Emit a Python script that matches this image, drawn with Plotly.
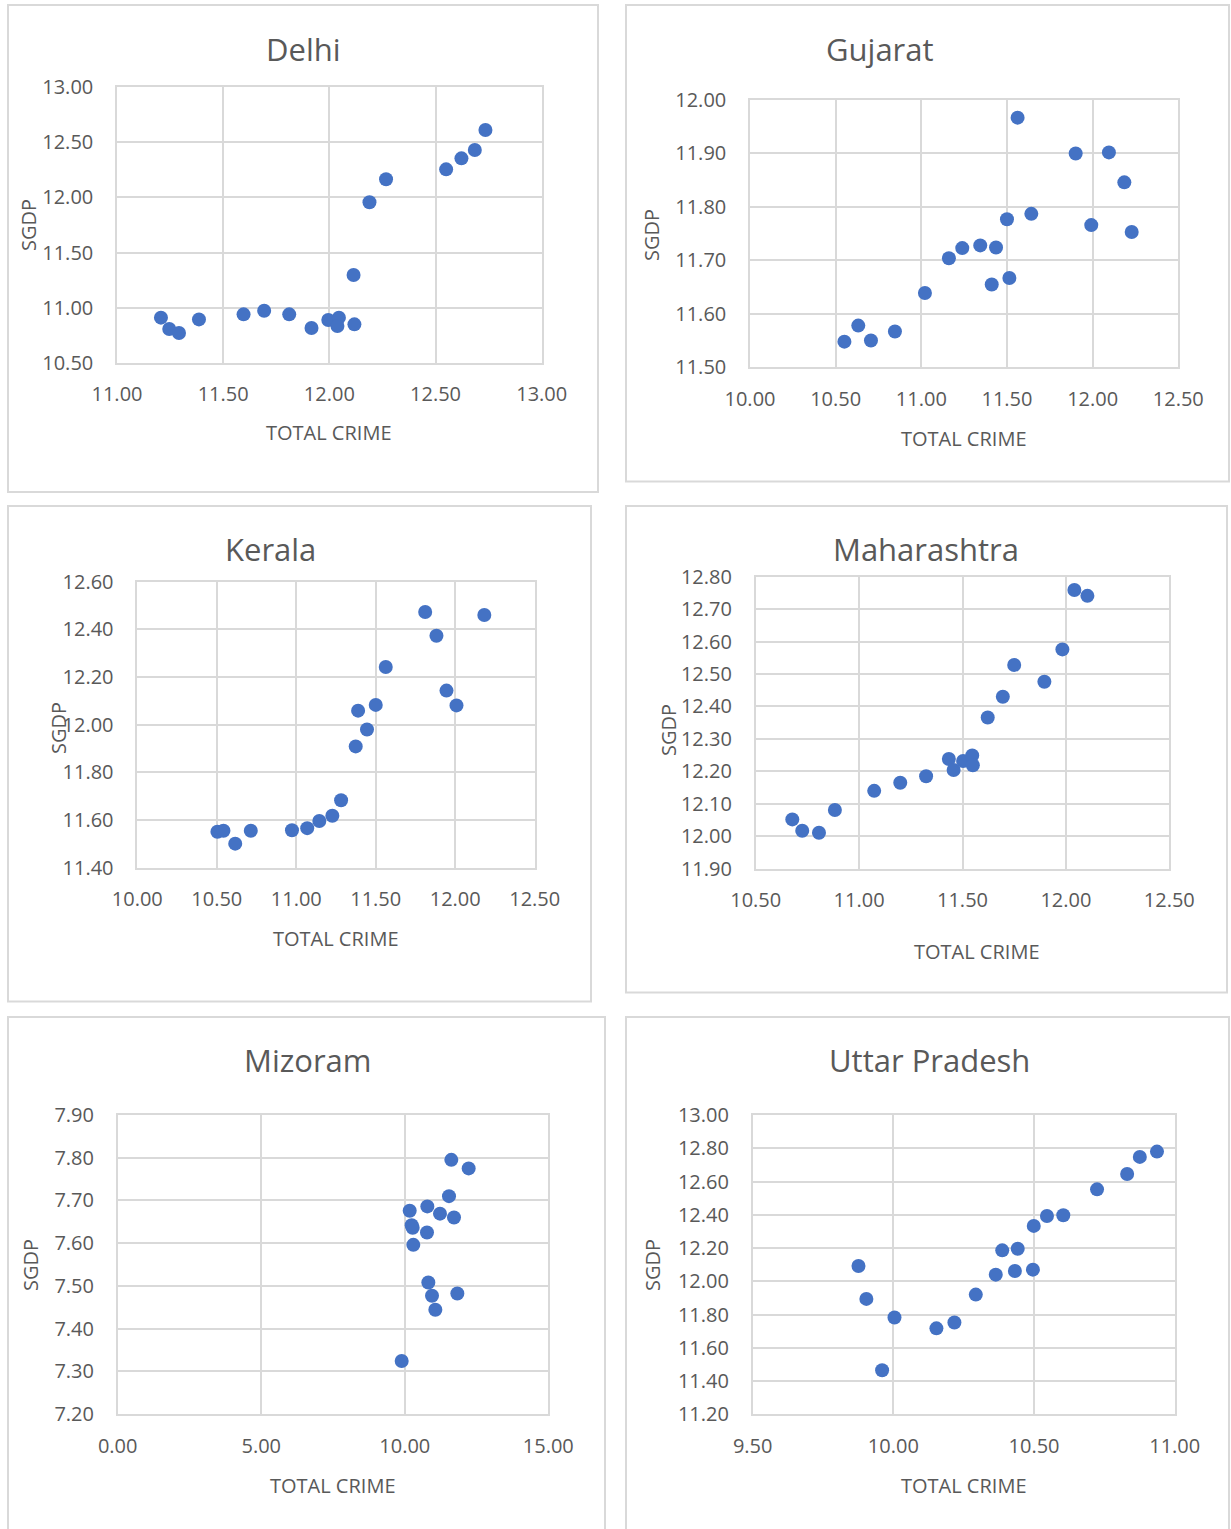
import plotly.graph_objects as go

W, H = 1231, 1529

# ---------------- data ----------------
delhi_crime = [11.207, 11.246, 11.292, 11.386, 11.596, 11.693, 11.811, 11.916, 11.995, 12.045,
               12.038, 12.118, 12.114, 12.189, 12.267, 12.550, 12.622, 12.685, 12.735]
delhi_sgdp = [10.909, 10.806, 10.769, 10.893, 10.939, 10.972, 10.939, 10.815, 10.887, 10.909,
              10.833, 10.848, 11.296, 11.956, 12.165, 12.255, 12.355, 12.431, 12.613]

gujarat_crime = [11.562, 11.901, 12.095, 12.185, 11.642, 11.500, 11.992, 12.228, 11.239, 11.344,
                 11.436, 11.161, 11.411, 11.514, 11.021, 10.632, 10.551, 10.706, 10.846]
gujarat_sgdp = [11.967, 11.900, 11.902, 11.846, 11.787, 11.777, 11.766, 11.753, 11.723, 11.728,
                11.724, 11.704, 11.655, 11.667, 11.639, 11.578, 11.548, 11.550, 11.567]

kerala_crime = [11.811, 12.183, 11.882, 11.563, 11.945, 12.008, 11.500, 11.389, 11.445, 11.374,
                11.282, 11.227, 11.145, 11.069, 10.973, 10.714, 10.616, 10.504, 10.542]
kerala_sgdp = [12.473, 12.460, 12.373, 12.242, 12.143, 12.081, 12.083, 12.059, 11.980, 11.909,
               11.683, 11.618, 11.596, 11.566, 11.557, 11.555, 11.501, 11.551, 11.555]

maha_crime = [12.041, 12.104, 11.983, 11.750, 11.896, 11.695, 11.622, 11.434, 11.503, 11.547,
              11.550, 11.457, 11.324, 11.199, 11.073, 10.883, 10.677, 10.725, 10.806]
maha_sgdp = [12.759, 12.741, 12.576, 12.528, 12.476, 12.430, 12.366, 12.238, 12.232, 12.249,
             12.219, 12.204, 12.185, 12.165, 12.140, 12.081, 12.052, 12.017, 12.011]

mizoram_crime = [11.622, 12.226, 11.541, 10.786, 10.171, 11.227, 11.715, 10.240, 10.275, 10.774,
                 10.298, 10.821, 10.949, 11.831, 11.065, 9.892]
mizoram_sgdp = [7.795, 7.775, 7.710, 7.686, 7.676, 7.669, 7.660, 7.642, 7.636, 7.625,
                7.596, 7.508, 7.477, 7.482, 7.444, 7.324]

up_crime = [10.937, 10.876, 10.831, 10.724, 10.604, 10.546, 10.499, 10.387, 10.442, 9.876,
            10.364, 10.432, 10.496, 10.293, 9.904, 10.004, 10.217, 10.153, 9.960]
up_sgdp = [12.780, 12.748, 12.645, 12.553, 12.397, 12.393, 12.333, 12.186, 12.196, 12.092,
           12.040, 12.062, 12.070, 11.920, 11.894, 11.782, 11.752, 11.717, 11.465]

titles = ["Delhi", "Gujarat", "Kerala", "Maharashtra", "Mizoram", "Uttar Pradesh"]
x_title = "TOTAL CRIME"
y_title = "SGDP"

# ---------------- layout spec (pixels) ----------------
panels = [
    dict(x=delhi_crime, y=delhi_sgdp, xr=[11, 13], xd=0.5, yr=[10.5, 13], yd=0.5,
         plot=(117, 541.7, 87.3, 362.7), box=(8, 598, 5, 492),
         title=(303, 49), xt=(329, 433), yt=(28, 225)),
    dict(x=gujarat_crime, y=gujarat_sgdp, xr=[10, 12.5], xd=0.5, yr=[11.5, 12.0], yd=0.1,
         plot=(750, 1178.3, 100, 367.3), box=(626, 1229, 5, 481.5),
         title=(880, 49), xt=(964, 438), yt=(651, 235)),
    dict(x=kerala_crime, y=kerala_sgdp, xr=[10, 12.5], xd=0.5, yr=[11.4, 12.6], yd=0.2,
         plot=(137.3, 534.7, 581.7, 867.7), box=(8, 591, 506, 1001.5),
         title=(270, 549), xt=(336, 938), yt=(58, 728)),
    dict(x=maha_crime, y=maha_sgdp, xr=[10.5, 12.5], xd=0.5, yr=[11.9, 12.8], yd=0.1,
         plot=(755.7, 1169.3, 576.7, 868.7), box=(626, 1227, 506, 992.5),
         title=(926, 549), xt=(977, 952), yt=(668, 730)),
    dict(x=mizoram_crime, y=mizoram_sgdp, xr=[0, 15], xd=5, yr=[7.2, 7.9], yd=0.1,
         plot=(117.7, 548.3, 1115, 1414), box=(8, 605, 1017, 1535),
         title=(307, 1060), xt=(333, 1485), yt=(30, 1265)),
    dict(x=up_crime, y=up_sgdp, xr=[9.5, 11.0], xd=0.5, yr=[11.2, 13.0], yd=0.2,
         plot=(752.7, 1174.7, 1115, 1414.3), box=(626, 1229, 1017, 1535),
         title=(929, 1060), xt=(964, 1485), yt=(652, 1265)),
]

FONT = "Open Sans"
TXT = "#595959"
GRID = "#d9d9d9"


def px(xp):
    return xp / W


def py(yp):
    return 1 - yp / H


fig = go.Figure()
shapes = []
annotations = []
layout = {}

for i, p in enumerate(panels):
    n = "" if i == 0 else str(i + 1)
    fig.add_trace(go.Scatter(
        x=p["x"], y=p["y"], mode="markers",
        marker=dict(color="#4472C4", size=14, line=dict(width=0)),
        xaxis="x" + n, yaxis="y" + n, showlegend=False,
    ))
    x0, x1, y0, y1 = p["plot"]
    common = dict(
        showgrid=True, gridcolor=GRID, gridwidth=1.5,
        showline=True, linecolor=GRID, linewidth=1.5, mirror=True,
        zeroline=False, ticks="", tickformat=".2f", automargin=False,
        tickfont=dict(family=FONT, size=20, color=TXT),
        fixedrange=True,
    )
    layout["xaxis" + n] = dict(
        common, domain=[px(x0), px(x1)], anchor="y" + n,
        range=p["xr"], tick0=p["xr"][0], dtick=p["xd"], ticklabelstandoff=13,
    )
    layout["yaxis" + n] = dict(
        common, domain=[py(y1), py(y0)], anchor="x" + n,
        range=p["yr"], tick0=p["yr"][0], dtick=p["yd"], ticklabelstandoff=18,
    )
    bx0, bx1, by0, by1 = p["box"]
    shapes.append(dict(type="rect", xref="paper", yref="paper",
                       x0=px(bx0), x1=px(bx1), y0=py(by1), y1=py(by0),
                       line=dict(color=GRID, width=2), fillcolor="rgba(0,0,0,0)",
                       layer="below"))
    tx, ty = p["title"]
    annotations.append(dict(text=titles[i], x=px(tx), y=py(ty), xref="paper", yref="paper",
                            xanchor="center", yanchor="middle", showarrow=False,
                            font=dict(family=FONT, size=31, color=TXT)))
    ax, ay = p["xt"]
    annotations.append(dict(text=x_title, x=px(ax), y=py(ay), xref="paper", yref="paper",
                            xanchor="center", yanchor="middle", showarrow=False,
                            font=dict(family=FONT, size=20, color=TXT)))
    yx, yy = p["yt"]
    annotations.append(dict(text=y_title, x=px(yx), y=py(yy), xref="paper", yref="paper",
                            xanchor="center", yanchor="middle", showarrow=False, textangle=-90,
                            font=dict(family=FONT, size=20, color=TXT)))

fig.update_layout(
    width=W, height=H, autosize=False,
    margin=dict(l=0, r=0, t=0, b=0, pad=0),
    paper_bgcolor="white", plot_bgcolor="white",
    shapes=shapes, annotations=annotations,
    **layout,
)

fig.write_html("out.html",
               config={"displayModeBar": False},
               post_script="document.body.style.margin='0';document.body.style.overflow='hidden';")
